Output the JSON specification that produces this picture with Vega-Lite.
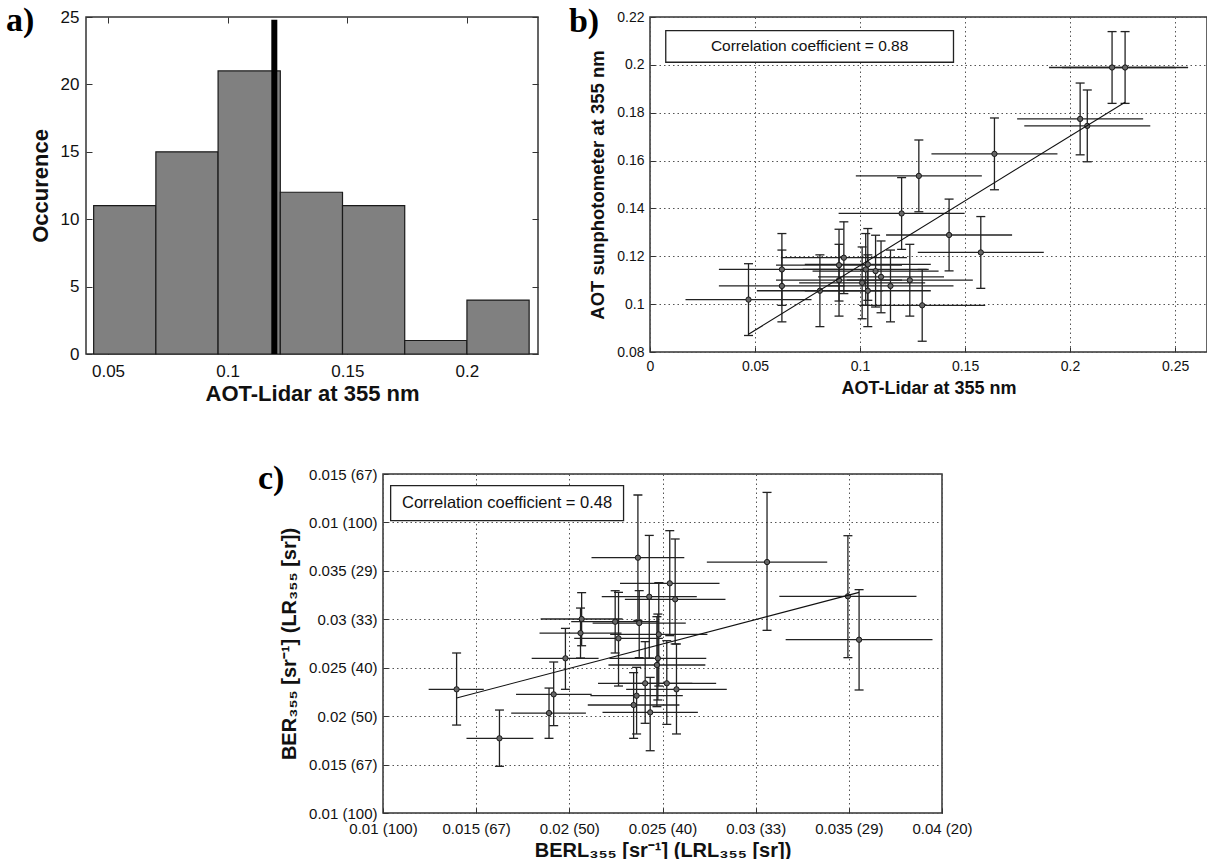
{
  "$schema": "https://vega.github.io/schema/vega-lite/v6.json",
  "background": "white",
  "padding": {"left": 5, "top": 3, "right": 0, "bottom": 0},
  "config": {
    "font": "Liberation Sans",
    "view": {"stroke": "#333", "strokeWidth": 1.5},
    "axis": {
      "domain": false, "labelFont": "Liberation Sans", "titleFont": "Liberation Sans",
      "labelColor": "#111", "titleColor": "#111", "titleFontWeight": "bold",
      "tickColor": "#333", "tickWidth": 1, "labelOverlap": false, "labelFlush": false, "labelBound": false,
      "gridColor": "#555", "gridDash": [1.5, 3], "gridWidth": 1, "gridOpacity": 1
    }
  },
  "datasets": {
    "hist": [
      {"lo": 0.044, "hi": 0.070, "n": 11, "base": 0},
      {"lo": 0.070, "hi": 0.096, "n": 15, "base": 0},
      {"lo": 0.096, "hi": 0.122, "n": 21, "base": 0},
      {"lo": 0.122, "hi": 0.148, "n": 12, "base": 0},
      {"lo": 0.148, "hi": 0.174, "n": 11, "base": 0},
      {"lo": 0.174, "hi": 0.200, "n": 1, "base": 0},
      {"lo": 0.200, "hi": 0.226, "n": 4, "base": 0}
    ],
    "mean": [{"m": 0.1195, "base": 0, "top": 24.8}],
    "bpts": [
      {"x": 0.0469, "y": 0.1019, "xlo": 0.0169, "xhi": 0.0769, "ylo": 0.0869, "yhi": 0.1169},
      {"x": 0.0628, "y": 0.1145, "xlo": 0.0328, "xhi": 0.0928, "ylo": 0.0995, "yhi": 0.1295},
      {"x": 0.0628, "y": 0.1076, "xlo": 0.0328, "xhi": 0.0928, "ylo": 0.0926, "yhi": 0.1226},
      {"x": 0.0809, "y": 0.1056, "xlo": 0.0509, "xhi": 0.1109, "ylo": 0.0906, "yhi": 0.1206},
      {"x": 0.0900, "y": 0.1163, "xlo": 0.0600, "xhi": 0.1200, "ylo": 0.1013, "yhi": 0.1313},
      {"x": 0.0900, "y": 0.1100, "xlo": 0.0600, "xhi": 0.1200, "ylo": 0.0950, "yhi": 0.1250},
      {"x": 0.0923, "y": 0.1194, "xlo": 0.0623, "xhi": 0.1223, "ylo": 0.1044, "yhi": 0.1344},
      {"x": 0.1010, "y": 0.1089, "xlo": 0.0710, "xhi": 0.1310, "ylo": 0.0939, "yhi": 0.1239},
      {"x": 0.1027, "y": 0.1145, "xlo": 0.0727, "xhi": 0.1327, "ylo": 0.0995, "yhi": 0.1295},
      {"x": 0.1037, "y": 0.1166, "xlo": 0.0737, "xhi": 0.1337, "ylo": 0.1016, "yhi": 0.1316},
      {"x": 0.1037, "y": 0.1056, "xlo": 0.0737, "xhi": 0.1337, "ylo": 0.0906, "yhi": 0.1206},
      {"x": 0.1074, "y": 0.1138, "xlo": 0.0774, "xhi": 0.1374, "ylo": 0.0988, "yhi": 0.1288},
      {"x": 0.1100, "y": 0.1114, "xlo": 0.0800, "xhi": 0.1400, "ylo": 0.0964, "yhi": 0.1264},
      {"x": 0.1145, "y": 0.1076, "xlo": 0.0845, "xhi": 0.1445, "ylo": 0.0926, "yhi": 0.1226},
      {"x": 0.1198, "y": 0.1379, "xlo": 0.0898, "xhi": 0.1498, "ylo": 0.1229, "yhi": 0.1529},
      {"x": 0.1237, "y": 0.1100, "xlo": 0.0937, "xhi": 0.1537, "ylo": 0.0950, "yhi": 0.1250},
      {"x": 0.1280, "y": 0.1536, "xlo": 0.0980, "xhi": 0.1580, "ylo": 0.1386, "yhi": 0.1686},
      {"x": 0.1296, "y": 0.0995, "xlo": 0.0996, "xhi": 0.1596, "ylo": 0.0845, "yhi": 0.1145},
      {"x": 0.1424, "y": 0.1289, "xlo": 0.1124, "xhi": 0.1724, "ylo": 0.1139, "yhi": 0.1439},
      {"x": 0.1575, "y": 0.1216, "xlo": 0.1275, "xhi": 0.1875, "ylo": 0.1066, "yhi": 0.1366},
      {"x": 0.1640, "y": 0.1628, "xlo": 0.1340, "xhi": 0.1940, "ylo": 0.1478, "yhi": 0.1778},
      {"x": 0.2048, "y": 0.1774, "xlo": 0.1748, "xhi": 0.2348, "ylo": 0.1624, "yhi": 0.1924},
      {"x": 0.2082, "y": 0.1745, "xlo": 0.1782, "xhi": 0.2382, "ylo": 0.1595, "yhi": 0.1895},
      {"x": 0.2200, "y": 0.1989, "xlo": 0.1900, "xhi": 0.2500, "ylo": 0.1839, "yhi": 0.2139},
      {"x": 0.2262, "y": 0.1989, "xlo": 0.1962, "xhi": 0.2562, "ylo": 0.1839, "yhi": 0.2139}
    ],
    "bfit": [{"x1": 0.0469, "y1": 0.0874, "x2": 0.2262, "y2": 0.1844}],
    "bbox": [{"x1": 0.0075, "x2": 0.1445, "y1": 0.2011, "y2": 0.2143, "xm": 0.0760, "ym": 0.2077, "t": "Correlation coefficient = 0.88"}],
    "cpts": [
      {"x": 0.01395, "y": 0.02277, "xlo": 0.01245, "xhi": 0.01541, "ylo": 0.01908, "yhi": 0.02652},
      {"x": 0.01625, "y": 0.01771, "xlo": 0.01448, "xhi": 0.01807, "ylo": 0.01482, "yhi": 0.02063},
      {"x": 0.01891, "y": 0.02032, "xlo": 0.01688, "xhi": 0.02089, "ylo": 0.01771, "yhi": 0.02290},
      {"x": 0.01916, "y": 0.02225, "xlo": 0.01714, "xhi": 0.02120, "ylo": 0.01902, "yhi": 0.02559},
      {"x": 0.01979, "y": 0.02597, "xlo": 0.01798, "xhi": 0.02157, "ylo": 0.02277, "yhi": 0.02906},
      {"x": 0.02060, "y": 0.02858, "xlo": 0.01840, "xhi": 0.02280, "ylo": 0.02600, "yhi": 0.03116},
      {"x": 0.02066, "y": 0.03003, "xlo": 0.01846, "xhi": 0.02286, "ylo": 0.02727, "yhi": 0.03275},
      {"x": 0.02246, "y": 0.02975, "xlo": 0.02010, "xhi": 0.02482, "ylo": 0.02652, "yhi": 0.03295},
      {"x": 0.02264, "y": 0.02803, "xlo": 0.02026, "xhi": 0.02502, "ylo": 0.02311, "yhi": 0.03278},
      {"x": 0.02345, "y": 0.02115, "xlo": 0.02099, "xhi": 0.02591, "ylo": 0.01771, "yhi": 0.02449},
      {"x": 0.02361, "y": 0.02211, "xlo": 0.02113, "xhi": 0.02609, "ylo": 0.01816, "yhi": 0.02504},
      {"x": 0.02368, "y": 0.03636, "xlo": 0.02119, "xhi": 0.02617, "ylo": 0.02989, "yhi": 0.04283},
      {"x": 0.02375, "y": 0.02961, "xlo": 0.02125, "xhi": 0.02625, "ylo": 0.02604, "yhi": 0.03295},
      {"x": 0.02407, "y": 0.02339, "xlo": 0.02154, "xhi": 0.02660, "ylo": 0.01926, "yhi": 0.02769},
      {"x": 0.02429, "y": 0.03233, "xlo": 0.02174, "xhi": 0.02684, "ylo": 0.02600, "yhi": 0.03866},
      {"x": 0.02434, "y": 0.02039, "xlo": 0.02178, "xhi": 0.02690, "ylo": 0.01643, "yhi": 0.02400},
      {"x": 0.02470, "y": 0.02528, "xlo": 0.02210, "xhi": 0.02730, "ylo": 0.02098, "yhi": 0.03027},
      {"x": 0.02475, "y": 0.02597, "xlo": 0.02215, "xhi": 0.02735, "ylo": 0.02167, "yhi": 0.03054},
      {"x": 0.02480, "y": 0.02844, "xlo": 0.02219, "xhi": 0.02741, "ylo": 0.02311, "yhi": 0.03378},
      {"x": 0.02523, "y": 0.02339, "xlo": 0.02258, "xhi": 0.02788, "ylo": 0.01915, "yhi": 0.02779},
      {"x": 0.02539, "y": 0.03371, "xlo": 0.02272, "xhi": 0.02806, "ylo": 0.02831, "yhi": 0.03915},
      {"x": 0.02568, "y": 0.03206, "xlo": 0.02298, "xhi": 0.02838, "ylo": 0.02745, "yhi": 0.03829},
      {"x": 0.02575, "y": 0.02277, "xlo": 0.02305, "xhi": 0.02845, "ylo": 0.01816, "yhi": 0.02745},
      {"x": 0.03061, "y": 0.03591, "xlo": 0.02738, "xhi": 0.03384, "ylo": 0.02886, "yhi": 0.04310},
      {"x": 0.03495, "y": 0.03237, "xlo": 0.03127, "xhi": 0.03863, "ylo": 0.02604, "yhi": 0.03863},
      {"x": 0.03555, "y": 0.02789, "xlo": 0.03161, "xhi": 0.03949, "ylo": 0.02270, "yhi": 0.03306}
    ],
    "cfit": [{"x1": 0.01395, "y1": 0.02187, "x2": 0.03555, "y2": 0.03278}],
    "cbox": [{"x1": 0.01041, "x2": 0.02291, "y1": 0.04018, "y2": 0.04379, "xm": 0.01666, "ym": 0.04198, "t": "Correlation coefficient = 0.48"}]
  },
  "spacing": 56,
  "resolve": {"scale": {"x": "independent", "y": "independent"}},
  "vconcat": [
    {
      "spacing": 28,
      "resolve": {"scale": {"x": "independent", "y": "independent"}},
      "hconcat": [
        {
          "width": 452, "height": 337,
          "resolve": {"axis": {"x": "independent", "y": "independent"}},
          "layer": [
            {
              "data": {"name": "hist"},
              "mark": {"type": "rect", "fill": "#808080", "stroke": "#1a1a1a", "strokeWidth": 1.2},
              "encoding": {
                "x": {"field": "lo", "type": "quantitative", "scale": {"domain": [0.0408, 0.2297], "nice": false, "zero": false},
                      "axis": {"values": [0.05, 0.1, 0.15, 0.2], "format": "~g", "tickSize": -6, "labelPadding": 15, "labelFontSize": 17, "title": "AOT-Lidar at 355 nm", "titleFontSize": 22, "titlePadding": 4, "grid": false}},
                "x2": {"field": "hi"},
                "y": {"field": "n", "type": "quantitative", "scale": {"domain": [0, 25], "nice": false, "zero": false},
                      "axis": {"values": [0, 5, 10, 15, 20, 25], "tickSize": -6, "labelPadding": 13, "labelFontSize": 17, "title": "Occurence", "titleFontSize": 22, "titlePadding": 8, "grid": false}},
                "y2": {"field": "base"}
              }
            },
            {
              "data": {"name": "mean"},
              "mark": {"type": "rule", "strokeWidth": 6, "color": "#000"},
              "encoding": {
                "x": {"field": "m", "type": "quantitative", "axis": {"orient": "top", "values": [0.05, 0.1, 0.15, 0.2], "labels": false, "tickSize": -6, "title": null, "grid": false}},
                "y": {"field": "base", "type": "quantitative", "axis": {"orient": "right", "values": [0, 5, 10, 15, 20, 25], "labels": false, "tickSize": -6, "title": null, "grid": false}},
                "y2": {"field": "top"}
              }
            },
            {
              "data": {"values": [{"t": "a)", "x": 0.00737, "y": 23.96}]},
              "mark": {"type": "text", "font": "Liberation Serif", "fontWeight": "bold", "fontSize": 34, "align": "left", "baseline": "alphabetic", "color": "#000"},
              "encoding": {
                "x": {"field": "x", "type": "quantitative", "axis": null},
                "y": {"field": "y", "type": "quantitative", "axis": null},
                "text": {"field": "t"}
              }
            }
          ]
        },
        {
          "width": 557, "height": 335,
          "resolve": {"axis": {"x": "independent", "y": "independent"}},
          "layer": [
            {
              "data": {"name": "bpts"},
              "mark": {"type": "rule", "color": "#222", "strokeWidth": 1.3},
              "encoding": {
                "x": {"field": "xlo", "type": "quantitative", "scale": {"domain": [0, 0.2652], "nice": false, "zero": false},
                      "axis": {"values": [0, 0.05, 0.1, 0.15, 0.2, 0.25], "format": "~g", "grid": true, "tickSize": -5, "labelPadding": 12, "labelFontSize": 14, "title": "AOT-Lidar at 355 nm", "titleFontSize": 18, "titlePadding": 6}},
                "x2": {"field": "xhi"},
                "y": {"field": "y", "type": "quantitative", "scale": {"domain": [0.08, 0.22], "nice": false, "zero": false},
                      "axis": {"values": [0.08, 0.1, 0.12, 0.14, 0.16, 0.18, 0.2, 0.22], "format": "~g", "grid": true, "tickSize": -5, "labelPadding": 11, "labelFontSize": 14, "title": "AOT sunphotometer at 355 nm", "titleFontSize": 18.5, "titlePadding": 9}}
              }
            },
            {
              "data": {"name": "bpts"},
              "mark": {"type": "rule", "color": "#222", "strokeWidth": 1.3},
              "encoding": {
                "x": {"field": "x", "type": "quantitative", "axis": null},
                "y": {"field": "ylo", "type": "quantitative", "axis": null},
                "y2": {"field": "yhi"}
              }
            },
            {
              "data": {"name": "bpts"},
              "mark": {"type": "tick", "orient": "horizontal", "size": 9, "thickness": 1.3, "color": "#222", "opacity": 1},
              "encoding": {
                "x": {"field": "x", "type": "quantitative", "axis": null},
                "y": {"field": "ylo", "type": "quantitative", "axis": null}
              }
            },
            {
              "data": {"name": "bpts"},
              "mark": {"type": "tick", "orient": "horizontal", "size": 9, "thickness": 1.3, "color": "#222", "opacity": 1},
              "encoding": {
                "x": {"field": "x", "type": "quantitative", "axis": null},
                "y": {"field": "yhi", "type": "quantitative", "axis": null}
              }
            },
            {
              "data": {"name": "bpts"},
              "mark": {"type": "point", "shape": "circle", "filled": true, "size": 28, "fill": "#666", "stroke": "#1a1a1a", "strokeWidth": 1, "opacity": 1},
              "encoding": {
                "x": {"field": "x", "type": "quantitative", "axis": null},
                "y": {"field": "y", "type": "quantitative", "axis": null}
              }
            },
            {
              "data": {"name": "bfit"},
              "mark": {"type": "rule", "color": "#111", "strokeWidth": 1.1},
              "encoding": {
                "x": {"field": "x1", "type": "quantitative", "axis": null},
                "y": {"field": "y1", "type": "quantitative", "axis": null},
                "x2": {"field": "x2"},
                "y2": {"field": "y2"}
              }
            },
            {
              "data": {"name": "bbox"},
              "mark": {"type": "rect", "fill": "white", "stroke": "#222", "strokeWidth": 1.3},
              "encoding": {
                "x": {"field": "x1", "type": "quantitative", "axis": null},
                "x2": {"field": "x2"},
                "y": {"field": "y1", "type": "quantitative", "axis": null},
                "y2": {"field": "y2"}
              }
            },
            {
              "data": {"name": "bbox"},
              "mark": {"type": "text", "fontSize": 15.5, "font": "Liberation Sans", "color": "#111", "align": "center", "baseline": "middle"},
              "encoding": {
                "x": {"field": "xm", "type": "quantitative", "axis": null},
                "y": {"field": "ym", "type": "quantitative", "axis": null},
                "text": {"field": "t"}
              }
            },
            {
              "data": {"values": [{"t": "b)", "x": -0.0386, "y": 0.2137}]},
              "mark": {"type": "text", "font": "Liberation Serif", "fontWeight": "bold", "fontSize": 34, "align": "left", "baseline": "alphabetic", "color": "#000"},
              "encoding": {
                "x": {"field": "x", "type": "quantitative", "axis": null},
                "y": {"field": "y", "type": "quantitative", "axis": null},
                "text": {"field": "t"}
              }
            }
          ]
        }
      ]
    },
    {
      "spacing": 0,
      "resolve": {"scale": {"x": "independent", "y": "independent"}},
      "hconcat": [
        {
          "width": 171, "height": 1,
          "view": {"stroke": null},
          "data": {"values": []},
          "mark": {"type": "point", "opacity": 0}
        },
        {
          "width": 559, "height": 339,
          "resolve": {"axis": {"x": "independent", "y": "independent"}},
          "layer": [
            {
              "data": {"name": "cpts"},
              "mark": {"type": "rule", "color": "#222", "strokeWidth": 1.3},
              "encoding": {
                "x": {"field": "xlo", "type": "quantitative", "scale": {"domain": [0.01, 0.04], "nice": false, "zero": false},
                      "axis": {"values": [0.01, 0.015, 0.02, 0.025, 0.03, 0.035, 0.04], "labelExpr": "datum.value < 0.0125 ? '0.01 (100)' : datum.value < 0.0175 ? '0.015 (67)' : datum.value < 0.0225 ? '0.02 (50)' : datum.value < 0.0275 ? '0.025 (40)' : datum.value < 0.0325 ? '0.03 (33)' : datum.value < 0.0375 ? '0.035 (29)' : '0.04 (20)'", "grid": true, "tickSize": -5, "labelPadding": 13, "labelFontSize": 15, "title": "BERL₃₅₅ [sr⁻¹] (LRL₃₅₅ [sr])", "titleFontSize": 20, "titlePadding": 4}},
                "x2": {"field": "xhi"},
                "y": {"field": "y", "type": "quantitative", "scale": {"domain": [0.01, 0.045], "nice": false, "zero": false},
                      "axis": {"values": [0.01, 0.015, 0.02, 0.025, 0.03, 0.035, 0.04, 0.045], "labelExpr": "datum.value < 0.0125 ? '0.01 (100)' : datum.value < 0.0175 ? '0.015 (67)' : datum.value < 0.0225 ? '0.02 (50)' : datum.value < 0.0275 ? '0.025 (40)' : datum.value < 0.0325 ? '0.03 (33)' : datum.value < 0.0375 ? '0.035 (29)' : datum.value < 0.0425 ? '0.01 (100)' : '0.015 (67)'", "grid": true, "tickSize": -5, "labelPadding": 11, "labelFontSize": 15, "title": "BER₃₅₅ [sr⁻¹] (LR₃₅₅ [sr])", "titleFontSize": 20, "titlePadding": 9}}
              }
            },
            {
              "data": {"name": "cpts"},
              "mark": {"type": "rule", "color": "#222", "strokeWidth": 1.3},
              "encoding": {
                "x": {"field": "x", "type": "quantitative", "axis": null},
                "y": {"field": "ylo", "type": "quantitative", "axis": null},
                "y2": {"field": "yhi"}
              }
            },
            {
              "data": {"name": "cpts"},
              "mark": {"type": "tick", "orient": "horizontal", "size": 9, "thickness": 1.3, "color": "#222", "opacity": 1},
              "encoding": {
                "x": {"field": "x", "type": "quantitative", "axis": null},
                "y": {"field": "ylo", "type": "quantitative", "axis": null}
              }
            },
            {
              "data": {"name": "cpts"},
              "mark": {"type": "tick", "orient": "horizontal", "size": 9, "thickness": 1.3, "color": "#222", "opacity": 1},
              "encoding": {
                "x": {"field": "x", "type": "quantitative", "axis": null},
                "y": {"field": "yhi", "type": "quantitative", "axis": null}
              }
            },
            {
              "data": {"name": "cpts"},
              "mark": {"type": "point", "shape": "circle", "filled": true, "size": 28, "fill": "#666", "stroke": "#1a1a1a", "strokeWidth": 1, "opacity": 1},
              "encoding": {
                "x": {"field": "x", "type": "quantitative", "axis": null},
                "y": {"field": "y", "type": "quantitative", "axis": null}
              }
            },
            {
              "data": {"name": "cfit"},
              "mark": {"type": "rule", "color": "#111", "strokeWidth": 1.1},
              "encoding": {
                "x": {"field": "x1", "type": "quantitative", "axis": null},
                "y": {"field": "y1", "type": "quantitative", "axis": null},
                "x2": {"field": "x2"},
                "y2": {"field": "y2"}
              }
            },
            {
              "data": {"name": "cbox"},
              "mark": {"type": "rect", "fill": "white", "stroke": "#222", "strokeWidth": 1.3},
              "encoding": {
                "x": {"field": "x1", "type": "quantitative", "axis": null},
                "x2": {"field": "x2"},
                "y": {"field": "y1", "type": "quantitative", "axis": null},
                "y2": {"field": "y2"}
              }
            },
            {
              "data": {"name": "cbox"},
              "mark": {"type": "text", "fontSize": 16.5, "font": "Liberation Sans", "color": "#111", "align": "center", "baseline": "middle"},
              "encoding": {
                "x": {"field": "xm", "type": "quantitative", "axis": null},
                "y": {"field": "ym", "type": "quantitative", "axis": null},
                "text": {"field": "t"}
              }
            },
            {
              "data": {"values": [{"t": "c)", "x": 0.00329, "y": 0.04345}]},
              "mark": {"type": "text", "font": "Liberation Serif", "fontWeight": "bold", "fontSize": 34, "align": "left", "baseline": "alphabetic", "color": "#000"},
              "encoding": {
                "x": {"field": "x", "type": "quantitative", "axis": null},
                "y": {"field": "y", "type": "quantitative", "axis": null},
                "text": {"field": "t"}
              }
            }
          ]
        }
      ]
    }
  ]
}
